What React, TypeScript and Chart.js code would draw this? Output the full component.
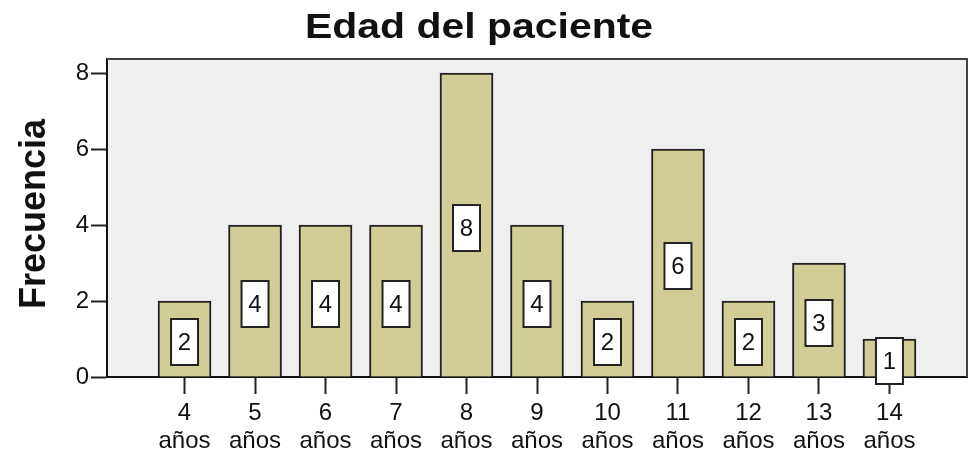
import React, { useEffect, useRef } from "react";
import { Chart, registerables } from "chart.js";

Chart.register(...registerables);

const ages = [4, 5, 6, 7, 8, 9, 10, 11, 12, 13, 14];
const frequencies = [2, 4, 4, 4, 8, 4, 2, 6, 2, 3, 1];
const yTickValues = [0, 2, 4, 6, 8];
const unitLabel = "años";
const chartTitle = "Edad del paciente";
const yAxisTitle = "Frecuencia";

const FONT = "'Liberation Sans', Arial, sans-serif";

const framePlugin = {
  id: "frame",
  beforeDraw(chart: any) {
    const { ctx, chartArea: a } = chart;
    ctx.save();
    ctx.fillStyle = "#efefef";
    ctx.fillRect(a.left, a.top, a.right - a.left, a.bottom - a.top);
    ctx.restore();
  },
  afterDraw(chart: any) {
    const { ctx, chartArea: a } = chart;
    ctx.save();
    ctx.strokeStyle = "#444";
    ctx.lineWidth = 2;
    ctx.beginPath();
    ctx.moveTo(a.left, a.top);
    ctx.lineTo(a.right, a.top);
    ctx.lineTo(a.right, a.bottom);
    ctx.stroke();
    // title
    ctx.fillStyle = "#111";
    ctx.font = `bold 35px ${FONT}`;
    ctx.textAlign = "center";
    ctx.textBaseline = "alphabetic";
    ctx.save();
    ctx.translate(479, 38);
    ctx.scale(1.17, 1);
    ctx.fillText(chartTitle, 0, 0);
    ctx.restore();
    // y title
    ctx.save();
    ctx.translate(45, 214);
    ctx.rotate(-Math.PI / 2);
    ctx.font = `bold 36px ${FONT}`;
    ctx.fillText(yAxisTitle, 0, 0);
    ctx.restore();
    ctx.restore();
  },
};

const boxLabelPlugin = {
  id: "boxLabels",
  afterDatasetsDraw(chart: any) {
    const { ctx } = chart;
    const meta = chart.getDatasetMeta(0);
    const yScale = chart.scales.y;
    ctx.save();
    meta.data.forEach((bar: any, i: number) => {
      const v = frequencies[i];
      const cx = bar.x;
      const cy = yScale.getPixelForValue(v / 2) + 3;
      const w = 27;
      const h = 46;
      ctx.fillStyle = "#ffffff";
      ctx.fillRect(cx - w / 2, cy - h / 2, w, h);
      ctx.strokeStyle = "#222";
      ctx.lineWidth = 2;
      ctx.strokeRect(cx - w / 2, cy - h / 2, w, h);
      ctx.fillStyle = "#111";
      ctx.font = `24px ${FONT}`;
      ctx.textAlign = "center";
      ctx.textBaseline = "middle";
      ctx.fillText(String(v), cx, cy + 1);
    });
    ctx.restore();
  },
};

export default function App() {
  const ref = useRef<HTMLCanvasElement | null>(null);
  useEffect(() => {
    if (!ref.current) return;
    const chart = new Chart(ref.current, {
      type: "bar",
      data: {
        datasets: [
          {
            data: ages.map((a, i) => ({ x: a, y: frequencies[i] })),
            backgroundColor: "#d2cd97",
            borderColor: "#222",
            borderWidth: 2,
            barThickness: 53,
          } as any,
        ],
      },
      options: {
        responsive: false,
        animation: false,
        devicePixelRatio: 1,
        layout: { padding: { top: 59, right: 5, left: 0, bottom: 0 } },
        plugins: {
          legend: { display: false },
          tooltip: { enabled: false },
          title: { display: false },
        },
        scales: {
          x: {
            type: "linear",
            offset: false,
            min: 2.9,
            max: 15.1,
            afterBuildTicks: (scale: any) => {
              scale.ticks = ages.map((v) => ({ value: v }));
            },
            afterFit: (scale: any) => {
              scale.height = 79;
            },
            grid: {
              offset: false,
              drawOnChartArea: false,
              drawTicks: true,
              tickLength: 17,
              tickWidth: 2,
              tickColor: "#222",
            },
            border: { display: true, color: "#111", width: 2 },
            ticks: {
              autoSkip: false,
              maxRotation: 0,
              padding: 6,
              color: "#111",
              font: { family: FONT, size: 24, lineHeight: 1.15 },
              callback: (value: any) => [String(value), unitLabel],
            },
          },
          y: {
            min: 0,
            max: 8.37,
            afterBuildTicks: (scale: any) => {
              scale.ticks = yTickValues.map((v) => ({ value: v }));
            },
            afterFit: (scale: any) => {
              scale.width = 107;
            },
            grid: {
              drawOnChartArea: false,
              drawTicks: true,
              tickLength: 16,
              tickWidth: 2,
              tickColor: "#222",
            },
            border: { display: true, color: "#111", width: 2 },
            ticks: {
              padding: 2,
              color: "#111",
              font: { family: FONT, size: 24 },
            },
          },
        },
      },
      plugins: [framePlugin, boxLabelPlugin],
    } as any);
    return () => chart.destroy();
  }, []);
  return (
    <div style={{ position: "fixed", left: 0, top: 0, width: 972, height: 456, background: "#fff" }}>
      <canvas ref={ref} width={972} height={456} />
    </div>
  );
}
